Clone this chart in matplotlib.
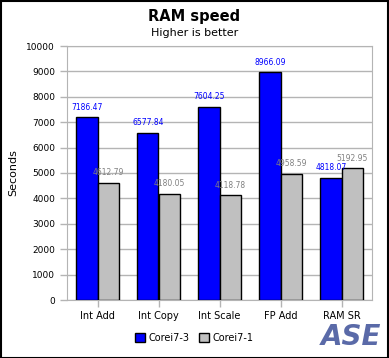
import numpy as np
import matplotlib.pyplot as plt
from matplotlib.patches import Rectangle

categories = ['Int Add', 'Int Copy', 'Int Scale', 'FP Add', 'RAM SR']
corei7_3 = [7186.47, 6577.84, 7604.25, 8966.09, 4818.07]
corei7_1 = [4612.79, 4180.05, 4118.78, 4958.59, 5192.95]
series_names = ['Corei7-3', 'Corei7-1']
yticks = np.arange(0, 10001, 1000)

W, H = 389, 358
fig = plt.figure(figsize=(W / 100, H / 100), dpi=100)
fig.patch.set_facecolor('white')
# black frame around the whole picture
fig.patches.append(Rectangle((0.5 / W, 0.5 / H), 1 - 1.5 / W, 1 - 1.5 / H,
                             transform=fig.transFigure, fill=False,
                             edgecolor='black', lw=1.5))

ax = fig.add_axes([67 / W, 1 - 300 / H, (372 - 67) / W, (300 - 46) / H])

x = np.arange(len(categories))
bw = 0.345
b1 = ax.bar(x - bw / 2, corei7_3, bw, color='#0000ff', edgecolor='black',
            lw=1, label=series_names[0], zorder=3)
b2 = ax.bar(x + bw / 2, corei7_1, bw, color='#c0c0c0', edgecolor='black',
            lw=1, label=series_names[1], zorder=3)

for bars, vals, col in [(b1, corei7_3, '#0000ff'), (b2, corei7_1, '#808080')]:
    for b, v in zip(bars, vals):
        ax.annotate(f'{v:.2f}', (b.get_x() + b.get_width() / 2, v),
                    xytext=(0, 4), textcoords='offset points',
                    ha='center', va='bottom', fontsize=5.5, color=col,
                    zorder=4)

ax.set_xlim(-0.5, len(categories) - 0.5)
ax.set_ylim(0, 10000)
ax.set_yticks(yticks)
ax.set_yticklabels([str(t) for t in yticks], fontsize=6.5)
ax.set_xticks(x)
ax.set_xticklabels(categories, fontsize=7)
ax.yaxis.grid(True, color='#b4b4b4', lw=1, zorder=0)
for s in ax.spines.values():
    s.set_color('#b4b4b4')
ax.tick_params(colors='#b4b4b4', labelcolor='black', length=5, width=1)
ax.tick_params(axis='x', pad=3)
ax.set_ylabel('Seconds', fontsize=8, labelpad=6)

fig.text(0.5, 1 - 16 / H, 'RAM speed', ha='center', va='center',
         fontsize=10.5, fontweight='bold')
fig.text(0.5, 1 - 33 / H, 'Higher is better', ha='center', va='center',
         fontsize=8)

fig.legend(loc='center', bbox_to_anchor=(0.5, 1 - 338 / H), ncol=2,
           frameon=False, fontsize=7, handlelength=1, handleheight=1,
           columnspacing=1, handletextpad=0.4)

fig.text(1 - 38 / W, 1 - 337 / H, 'ASE', ha='center', va='center',
         fontsize=20, fontweight='bold', color='#5a6aa8', style='italic')

fig.savefig('out.png', dpi=100)
